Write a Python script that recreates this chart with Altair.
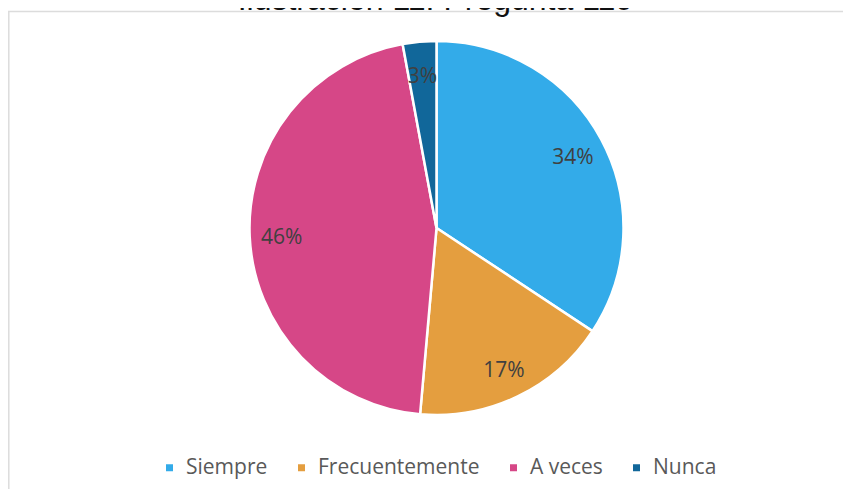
import altair as alt
import pandas as pd

categories = ["Siempre", "Frecuentemente", "A veces", "Nunca"]
values = [34.3, 17.1, 45.7, 2.9]
labels = ["34%", "17%", "46%", "3%"]
colors = ["#33ABE9", "#E49E3F", "#D64787", "#11679A"]
title_text = "Ilustración 11: Pregunta 11c"

df = pd.DataFrame({"cat": categories, "val": values, "lab": labels, "ord": list(range(len(categories)))})
tdf = pd.DataFrame({"t": [title_text]})

W, H = 835, 481
CX, CY, R = 428.5, 220, 187

base = alt.Chart(df).encode(
    theta=alt.Theta("val:Q", stack=True),
    order=alt.Order("ord:Q"),
)

pie = base.mark_arc(radius=R, stroke="white", strokeWidth=2.5).encode(
    x=alt.value(CX),
    y=alt.value(CY),
    color=alt.Color(
        "cat:N",
        scale=alt.Scale(domain=categories, range=colors),
        sort=categories,
        legend=alt.Legend(
            title=None,
            orient="none",
            legendX=151,
            legendY=449,
            direction="horizontal",
            columns=4,
            symbolType="square",
            symbolSize=49,
            symbolStrokeWidth=0,
            labelFontSize=21,
            labelFont="Open Sans",
            labelColor="#595959",
            columnPadding=23,
            labelLimit=400,
            labelOffset=6,
        ),
    ),
)

text = base.mark_text(radius=155, dy=3, font="Open Sans", fontSize=21, color="#404040").encode(
    x=alt.value(CX),
    y=alt.value(CY),
    text="lab:N",
)

title = alt.Chart(tdf).mark_text(
    font="Liberation Sans", fontSize=32, color="#111111", align="center", baseline="alphabetic"
).encode(x=alt.value(426.5), y=alt.value(2), text="t:N")

top_line = alt.Chart(tdf).mark_rule(color="#DCDCDC", strokeWidth=1.5).encode(
    x=alt.value(0), x2=alt.value(843), y=alt.value(3.5)
)
left_line = alt.Chart(tdf).mark_rule(color="#DCDCDC", strokeWidth=1.5).encode(
    x=alt.value(0.8), y=alt.value(3.5), y2=alt.value(489)
)

chart = alt.layer(top_line, left_line, pie, text, title).properties(
    width=W, height=H, autosize=alt.AutoSizeParams(type="none"), padding=0
).configure_view(stroke=None)

chart.save("out.html", embed_options={"renderer": "svg", "actions": False})
